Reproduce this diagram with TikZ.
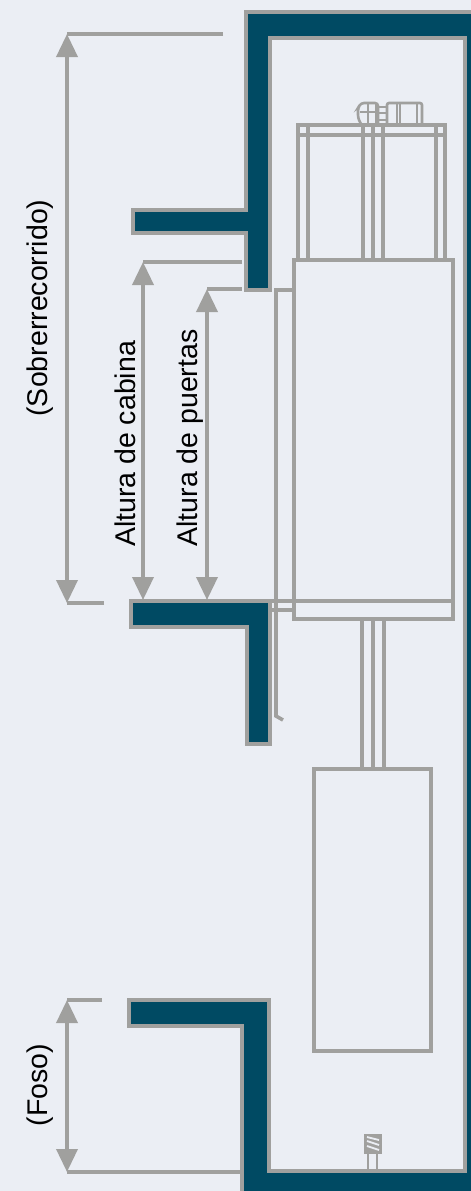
\documentclass[tikz,border=0pt]{standalone}
\usepackage{fontspec}
\setmainfont{Liberation Sans}
\usetikzlibrary{arrows.meta}
\definecolor{bgcol}{HTML}{EBEEF4}
\definecolor{wallcol}{HTML}{004A63}
\definecolor{linecol}{HTML}{A0A09E}
\begin{document}
\begin{tikzpicture}[x=1pt,y=-1pt]
    \tikzset{wall/.style={fill=wallcol,draw=linecol,line width=3.8pt},
        part/.style={draw=linecol,line width=3.6pt},
        thin part/.style={draw=linecol,line width=2.6pt},
        dim/.style={draw=linecol,line width=3.6pt,{Triangle[length=23pt,width=21pt]}-{Triangle[length=23pt,width=21pt]}},
        label/.style={rotate=90,font=\fontsize{28.5}{29}\selectfont,inner sep=0pt}}
    \useasboundingbox (0,0) rectangle (471,1191);
    \clip (0,0) rectangle (471,1191);
    \fill[bgcol] (0,0) rectangle (471,1191);

    % walls
    \draw[wall] (133,210) -- (246,210) -- (246,12) -- (480,12) -- (480,1200) -- (242,1200) -- (242,1026)
        -- (129,1026) -- (129,1000) -- (269,1000) -- (269,1171) -- (465,1171) -- (465,38) -- (270,38)
        -- (270,290) -- (246,290) -- (246,233) -- (133,233) -- cycle;
    \draw[wall] (131,601) -- (270,601) -- (270,744) -- (247,744) -- (247,627) -- (131,627) -- cycle;

    % cabin and doors
    \draw[part] (294,260) rectangle (453,619);
    \draw[part] (270,601) -- (453,601);
    \draw[part] (270,610) -- (294,610);
    \draw[part] (294,290) -- (276,290) -- (276,716) -- (283,720);

    % frame over the cabin
    \draw[part] (298,260) -- (298,125) -- (445,125) -- (445,260);
    \draw[part] (298,135) -- (445,135);
    \draw[part] (308,125) -- (308,260);
    \draw[part] (363,125) -- (363,260);
    \draw[part] (373,125) -- (373,260);
    \draw[part] (383,125) -- (383,260);
    \draw[part] (436,125) -- (436,260);

    % machine
    \draw[thin part,rounded corners=3pt] (378,124) -- (378,103) -- (361,103) -- (358,108) -- (358,118) -- (361,124);
    \draw[thin part,rounded corners=2pt] (387,124) -- (387,103) -- (422,103) -- (422,124);
    \draw[thin part] (368,103) -- (368,124);
    \draw[thin part] (376,103) -- (376,124);
    \draw[thin part] (397,103) -- (397,124);
    \draw[thin part] (400,103) -- (400,124);
    \draw[thin part] (417,103) -- (417,124);
    \draw[thin part] (360,112) -- (378,112);
    \draw[thin part] (378,107) -- (387,107);
    \draw[thin part] (378,113) -- (387,113);
    \draw[thin part] (378,120) -- (387,120);

    % guide rods and counterweight
    \draw[part] (362,619) -- (362,769);
    \draw[part] (373,619) -- (373,769);
    \draw[part] (384,619) -- (384,769);
    \draw[part] (314,769) rectangle (431,1051);

    % buffer
    \draw[thin part,fill=linecol] (365,1135) rectangle (381,1153);
    \draw[thin part,draw=bgcol,line width=1.8pt] (367,1137) -- (379,1140);
    \draw[thin part,draw=bgcol,line width=1.8pt] (367,1141) -- (379,1145);
    \draw[thin part,draw=bgcol,line width=1.8pt] (367,1146) -- (379,1150);
    \draw[thin part] (368,1153) -- (368,1171);
    \draw[thin part] (377,1153) -- (377,1171);

    % dimensions
    \coordinate (overT) at (67,34);
    \coordinate (overTe) at (223,34);
    \coordinate (overB) at (67,603);
    \coordinate (overBe) at (104,603);
    \coordinate (cabT) at (143,262);
    \coordinate (cabTe) at (242,262);
    \coordinate (cabB) at (143,600);
    \coordinate (doorT) at (207,289);
    \coordinate (doorTe) at (242,289);
    \coordinate (doorB) at (207,600);
    \coordinate (pitT) at (67,1000);
    \coordinate (pitTe) at (102,1000);
    \coordinate (pitB) at (67,1172);
    \coordinate (pitBe) at (241,1172);

    \draw[part] (overTe) -- (overT);
    \draw[part] (overBe) -- (overB);
    \draw[part] (cabTe) -- (cabT);
    \draw[part] (doorTe) -- (doorT);
    \draw[part] (pitTe) -- (pitT);
    \draw[part] (pitBe) -- (pitB);

    \draw[dim] (overT) -- (overB);
    \draw[dim] (cabT) -- (cabB);
    \draw[dim] (doorT) -- (doorB);
    \draw[dim] (pitT) -- (pitB);

    \node[label] (overL) at (40,308) {(Sobrerrecorrido)};
    \node[label] (cabL) at (125,444) {Altura de cabina};
    \node[label] (doorL) at (190,438) {Altura de puertas};
    \node[label] (pitL) at (40,1085) {(Foso)};
\end{tikzpicture}
\end{document}
